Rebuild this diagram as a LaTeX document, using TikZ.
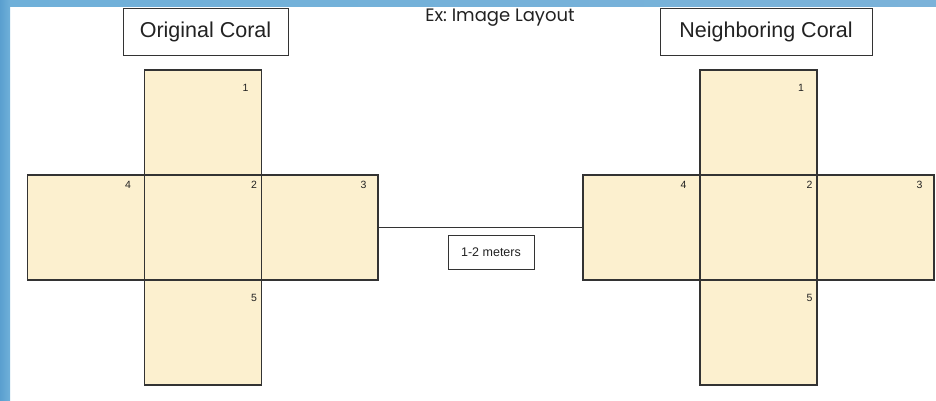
\documentclass[tikz,border=0pt]{standalone}
\usepackage{fontspec}
\setmainfont{Liberation Sans}
\newfontfamily\popfont{Poppins}
\definecolor{coralfill}{HTML}{FCF0CF}
\definecolor{seablue}{HTML}{6FB0D9}
\definecolor{seadark}{HTML}{5A9FCF}
\definecolor{edge}{HTML}{333333}
\definecolor{ink}{HTML}{222222}
\begin{document}
\begin{tikzpicture}[x=1pt,y=-1pt,
  cell/.style={draw=edge, fill=coralfill, line width=1.1pt, minimum width=117pt, minimum height=105pt, inner sep=0pt},
  num/.style={anchor=north east, inner sep=0pt, text=ink, font=\fontsize{10.5}{12}\selectfont},
  titlebox/.style={draw=edge, fill=white, line width=0.9pt, minimum height=47pt, inner sep=0pt, text=ink, font=\fontsize{21.5}{25}\selectfont},
  tagbox/.style={draw=edge, fill=white, line width=0.8pt, minimum width=86pt, minimum height=34pt, inner sep=0pt, text=ink, font=\fontsize{12.5}{15}\selectfont},
  link/.style={draw=edge, line width=0.9pt}]
\useasboundingbox (0,0) rectangle (936,400);
\fill[white] (0,0) rectangle (936,400);
\shade[left color=seadark, right color=seablue] (0,0) rectangle (10,400);
\shade[left color=seablue, right color=seadark!80] (10,0) rectangle (936,6);

% titles
\node[titlebox, minimum width=165pt] (t1) at (205.5,31.5) {Original Coral};
\node[titlebox, minimum width=212pt] (t2) at (766,31.5) {Neighboring Coral};
\node[text=ink, font=\popfont\fontsize{18}{21}\selectfont, inner sep=0pt, anchor=base] (ex) at (500,21.5) {Ex:\ Image\ Layout};

% left cross
\node[cell] (L1) at (203,122.5) {};
\node[cell] (L4) at (86,227.5) {};
\node[cell] (L3) at (319.5,227.5) {};
\node[cell] (L5) at (203,332.5) {};
\node[cell] (L2) at (203,227.5) {};

% right cross
\node[cell] (R1) at (758.5,122.5) {};
\node[cell] (R4) at (641.5,227.5) {};
\node[cell] (R3) at (875.5,227.5) {};
\node[cell] (R5) at (758.5,332.5) {};
\node[cell] (R2) at (758.5,227.5) {};

% numbers
\foreach \c in {L,R}{
  \node[num] (\c n1) at ([shift={(-13.5,15)}]\c1.north east) {1};
  \node[num] (\c n2) at ([shift={(-5,7)}]\c2.north east) {2};
  \node[num] (\c n3) at ([shift={(-12,7)}]\c3.north east) {3};
  \node[num] (\c n4) at ([shift={(-14,7)}]\c4.north east) {4};
  \node[num] (\c n5) at ([shift={(-5,15)}]\c5.north east) {5};
}

% connector
\draw[link] (L3.east) -- (R4.west);
\node[tagbox] (dist) at (491,252) {1-2 meters};
\end{tikzpicture}
\end{document}
